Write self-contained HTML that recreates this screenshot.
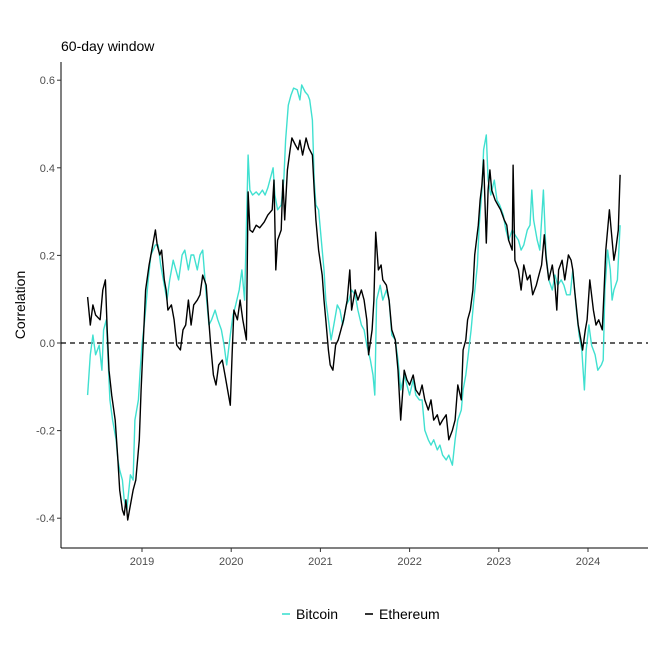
<!DOCTYPE html>
<html><head><meta charset="utf-8"><style>
html,body{margin:0;padding:0;background:#fff;}
svg{display:block;font-family:"Liberation Sans",sans-serif;}
</style></head><body>
<svg id="chart" width="661" height="661" viewBox="0 0 661 661">
<text x="61" y="51" font-size="14" fill="#000">60-day window</text>
<text transform="translate(25,305) rotate(-90)" text-anchor="middle" font-size="14" fill="#000">Correlation</text>
<g id="grid"></g>
<g id="series"></g>
<line x1="61" y1="62" x2="61" y2="548" stroke="#000" stroke-width="1"/>
<line x1="61" y1="548" x2="648" y2="548" stroke="#000" stroke-width="1"/>
<g id="axes"></g>
<g>
<line x1="282" y1="614" x2="290" y2="614" stroke="#40E0D0" stroke-width="1.6"/>
<text x="296" y="619" font-size="14" fill="#000">Bitcoin</text>
<line x1="365" y1="614" x2="373" y2="614" stroke="#000" stroke-width="1.6"/>
<text x="379" y="619" font-size="14" fill="#000">Ethereum</text>
</g>
</svg>
<script>
const yTicks = [-0.4, -0.2, 0.0, 0.2, 0.4, 0.6];
const yTickLabels = ["-0.4", "-0.2", "0.0", "0.2", "0.4", "0.6"];
const xTicks = [2019, 2020, 2021, 2022, 2023, 2024];
const xTickLabels = ["2019", "2020", "2021", "2022", "2023", "2024"];

const ethDates = [2018.39,2018.42,2018.45,2018.48,2018.53,2018.56,2018.59,2018.61,2018.63,2018.66,2018.70,2018.73,2018.75,2018.78,2018.80,2018.82,2018.84,2018.87,2018.90,2018.93,2018.97,2018.99,2019.01,2019.04,2019.08,2019.11,2019.15,2019.17,2019.20,2019.22,2019.25,2019.27,2019.29,2019.33,2019.36,2019.39,2019.43,2019.46,2019.49,2019.52,2019.55,2019.58,2019.62,2019.65,2019.68,2019.72,2019.74,2019.77,2019.80,2019.83,2019.86,2019.90,2019.93,2019.96,2019.99,2020.01,2020.03,2020.07,2020.10,2020.13,2020.17,2020.19,2020.21,2020.24,2020.28,2020.32,2020.37,2020.41,2020.46,2020.48,2020.50,2020.52,2020.56,2020.58,2020.60,2020.63,2020.66,2020.68,2020.72,2020.75,2020.77,2020.80,2020.84,2020.87,2020.91,2020.93,2020.95,2020.98,2021.02,2021.04,2021.06,2021.09,2021.11,2021.14,2021.17,2021.20,2021.23,2021.26,2021.30,2021.33,2021.35,2021.39,2021.42,2021.46,2021.49,2021.52,2021.54,2021.58,2021.60,2021.62,2021.65,2021.68,2021.70,2021.74,2021.77,2021.80,2021.84,2021.87,2021.90,2021.94,2021.97,2022.00,2022.04,2022.07,2022.11,2022.14,2022.17,2022.21,2022.24,2022.27,2022.31,2022.34,2022.37,2022.41,2022.44,2022.48,2022.51,2022.54,2022.58,2022.60,2022.63,2022.65,2022.68,2022.71,2022.73,2022.77,2022.79,2022.81,2022.83,2022.86,2022.88,2022.90,2022.92,2022.96,2022.99,2023.02,2023.06,2023.09,2023.11,2023.15,2023.16,2023.18,2023.22,2023.25,2023.28,2023.32,2023.35,2023.38,2023.42,2023.45,2023.48,2023.51,2023.53,2023.56,2023.60,2023.63,2023.65,2023.67,2023.71,2023.74,2023.78,2023.81,2023.83,2023.85,2023.89,2023.92,2023.94,2023.97,2023.99,2024.02,2024.06,2024.09,2024.12,2024.16,2024.18,2024.20,2024.24,2024.26,2024.29,2024.31,2024.34,2024.36];
const ethValues = [0.105,0.041,0.087,0.064,0.053,0.121,0.144,0.030,-0.062,-0.119,-0.176,-0.267,-0.336,-0.381,-0.393,-0.358,-0.404,-0.370,-0.336,-0.313,-0.221,-0.107,-0.016,0.121,0.178,0.212,0.258,0.224,0.201,0.212,0.144,0.121,0.075,0.087,0.053,-0.005,-0.016,0.030,0.041,0.098,0.041,0.087,0.098,0.110,0.155,0.132,0.075,-0.005,-0.073,-0.096,-0.050,-0.039,-0.073,-0.107,-0.142,-0.027,0.075,0.053,0.098,0.053,0.007,0.345,0.258,0.253,0.269,0.263,0.276,0.292,0.304,0.372,0.167,0.235,0.258,0.372,0.281,0.395,0.441,0.468,0.452,0.441,0.463,0.429,0.468,0.445,0.429,0.349,0.281,0.212,0.155,0.098,0.053,-0.016,-0.050,-0.062,-0.005,0.007,0.030,0.053,0.098,0.167,0.075,0.121,0.098,0.121,0.098,0.053,-0.027,0.030,0.098,0.253,0.167,0.178,0.144,0.132,0.098,0.030,0.007,-0.062,-0.176,-0.062,-0.084,-0.096,-0.073,-0.107,-0.119,-0.096,-0.130,-0.153,-0.130,-0.176,-0.164,-0.187,-0.176,-0.164,-0.221,-0.199,-0.176,-0.096,-0.130,-0.016,0.007,0.053,0.075,0.121,0.201,0.269,0.326,0.361,0.418,0.228,0.349,0.395,0.349,0.326,0.315,0.304,0.281,0.269,0.235,0.212,0.406,0.189,0.167,0.121,0.178,0.144,0.155,0.110,0.132,0.155,0.178,0.247,0.194,0.144,0.178,0.132,0.075,0.167,0.189,0.144,0.201,0.189,0.167,0.121,0.041,0.007,-0.016,0.030,0.053,0.144,0.075,0.041,0.053,0.030,0.121,0.212,0.304,0.258,0.189,0.212,0.258,0.384];

const btcDates = [2018.39,2018.42,2018.45,2018.48,2018.52,2018.55,2018.57,2018.60,2018.62,2018.64,2018.67,2018.71,2018.73,2018.75,2018.78,2018.80,2018.83,2018.87,2018.90,2018.92,2018.96,2018.98,2019.00,2019.03,2019.07,2019.10,2019.15,2019.18,2019.21,2019.25,2019.28,2019.31,2019.35,2019.38,2019.41,2019.45,2019.48,2019.52,2019.55,2019.58,2019.62,2019.65,2019.68,2019.72,2019.75,2019.78,2019.82,2019.85,2019.89,2019.92,2019.95,2019.99,2020.02,2020.05,2020.09,2020.12,2020.15,2020.18,2020.19,2020.21,2020.24,2020.28,2020.31,2020.35,2020.38,2020.41,2020.45,2020.47,2020.49,2020.52,2020.56,2020.59,2020.61,2020.64,2020.67,2020.70,2020.74,2020.77,2020.79,2020.83,2020.86,2020.88,2020.91,2020.93,2020.95,2020.98,2021.02,2021.04,2021.06,2021.09,2021.12,2021.15,2021.19,2021.22,2021.25,2021.29,2021.32,2021.35,2021.39,2021.42,2021.46,2021.49,2021.52,2021.56,2021.59,2021.61,2021.63,2021.67,2021.70,2021.74,2021.77,2021.80,2021.84,2021.87,2021.90,2021.94,2021.97,2022.00,2022.04,2022.07,2022.11,2022.14,2022.17,2022.21,2022.24,2022.27,2022.31,2022.34,2022.37,2022.41,2022.44,2022.48,2022.51,2022.54,2022.58,2022.60,2022.63,2022.65,2022.69,2022.72,2022.76,2022.78,2022.81,2022.83,2022.86,2022.88,2022.91,2022.95,2022.98,2023.01,2023.05,2023.08,2023.11,2023.15,2023.18,2023.22,2023.25,2023.28,2023.32,2023.35,2023.37,2023.39,2023.43,2023.46,2023.50,2023.53,2023.56,2023.60,2023.63,2023.66,2023.70,2023.73,2023.76,2023.80,2023.83,2023.87,2023.90,2023.93,2023.96,2023.98,2024.01,2024.04,2024.08,2024.11,2024.15,2024.17,2024.19,2024.22,2024.25,2024.27,2024.29,2024.33,2024.36];
const btcValues = [-0.119,-0.027,0.018,-0.027,-0.005,-0.062,0.030,0.053,-0.039,-0.130,-0.176,-0.221,-0.267,-0.290,-0.313,-0.358,-0.381,-0.301,-0.313,-0.176,-0.130,-0.062,-0.005,0.053,0.144,0.201,0.224,0.224,0.178,0.132,0.098,0.144,0.189,0.167,0.144,0.201,0.212,0.167,0.201,0.201,0.167,0.201,0.212,0.110,0.041,0.053,0.075,0.053,0.030,-0.005,-0.050,0.018,0.064,0.087,0.121,0.167,0.098,0.349,0.429,0.349,0.338,0.345,0.338,0.349,0.338,0.354,0.384,0.400,0.338,0.304,0.315,0.372,0.463,0.543,0.566,0.582,0.578,0.555,0.589,0.573,0.566,0.555,0.509,0.372,0.315,0.304,0.212,0.167,0.098,0.053,0.007,0.041,0.087,0.075,0.041,0.087,0.098,0.121,0.110,0.075,0.041,0.030,-0.005,-0.039,-0.073,-0.119,0.098,0.132,0.098,0.121,0.098,0.018,0.007,-0.039,-0.107,-0.073,-0.096,-0.119,-0.084,-0.119,-0.130,-0.130,-0.199,-0.221,-0.233,-0.221,-0.244,-0.233,-0.256,-0.267,-0.256,-0.279,-0.221,-0.176,-0.153,-0.107,-0.073,-0.039,0.030,0.098,0.178,0.269,0.349,0.441,0.475,0.372,0.338,0.372,0.326,0.315,0.292,0.258,0.235,0.258,0.247,0.235,0.212,0.224,0.258,0.269,0.349,0.281,0.235,0.212,0.349,0.201,0.144,0.121,0.155,0.132,0.144,0.132,0.110,0.110,0.167,0.075,0.018,-0.016,-0.107,-0.016,0.041,-0.005,-0.027,-0.062,-0.050,-0.039,0.121,0.212,0.167,0.098,0.121,0.144,0.269];

const NS = "http://www.w3.org/2000/svg";
function xScale(yr){ return 142 + (yr - 2019) * 89.2; }
function yScale(v){ return 343 - v * 438; }

const axes = document.getElementById('axes');
yTicks.forEach((t, i) => {
  const tk = document.createElementNS(NS, 'line');
  tk.setAttribute('x1', 57); tk.setAttribute('x2', 61);
  tk.setAttribute('y1', yScale(t)); tk.setAttribute('y2', yScale(t));
  tk.setAttribute('stroke', '#333');
  
  
  axes.appendChild(tk);
  const lb = document.createElementNS(NS, 'text');
  lb.setAttribute('x', 55); lb.setAttribute('y', yScale(t) + 4);
  lb.setAttribute('text-anchor', 'end'); lb.setAttribute('font-size', '11'); lb.setAttribute('fill', '#4d4d4d');
  lb.textContent = yTickLabels[i];
  
  
  axes.appendChild(lb);
});
xTicks.forEach((t, i) => {
  const tk = document.createElementNS(NS, 'line');
  tk.setAttribute('x1', xScale(t)); tk.setAttribute('x2', xScale(t));
  tk.setAttribute('y1', 548); tk.setAttribute('y2', 552);
  tk.setAttribute('stroke', '#333');
  
  
  axes.appendChild(tk);
  const lb = document.createElementNS(NS, 'text');
  lb.setAttribute('x', xScale(t)); lb.setAttribute('y', 565);
  lb.setAttribute('text-anchor', 'middle'); lb.setAttribute('font-size', '11'); lb.setAttribute('fill', '#4d4d4d');
  lb.textContent = xTickLabels[i];
  
  
  axes.appendChild(lb);
});

const grid = document.getElementById('grid');
const zero = document.createElementNS(NS, 'line');
zero.setAttribute('x1', 61); zero.setAttribute('x2', 648);
zero.setAttribute('y1', yScale(0)); zero.setAttribute('y2', yScale(0));
zero.setAttribute('stroke', '#000'); zero.setAttribute('stroke-dasharray', '5,4'); zero.setAttribute('stroke-width', '1.2');


grid.appendChild(zero);

const series = document.getElementById('series');
function drawLine(dates, vals, color, name){
  const p = document.createElementNS(NS, 'path');
  let d = '';
  dates.forEach((dt, i) => { d += (i ? 'L' : 'M') + xScale(dt).toFixed(1) + ',' + yScale(vals[i]).toFixed(1); });
  p.setAttribute('d', d);
  p.setAttribute('fill', 'none'); p.setAttribute('stroke', color); p.setAttribute('stroke-width', '1.4');
  p.setAttribute('stroke-linejoin', 'round');
  
  
  series.appendChild(p);
}
drawLine(btcDates, btcValues, '#40E0D0', 'bitcoin-line');
drawLine(ethDates, ethValues, '#000000', 'ethereum-line');
</script>
</body></html>
